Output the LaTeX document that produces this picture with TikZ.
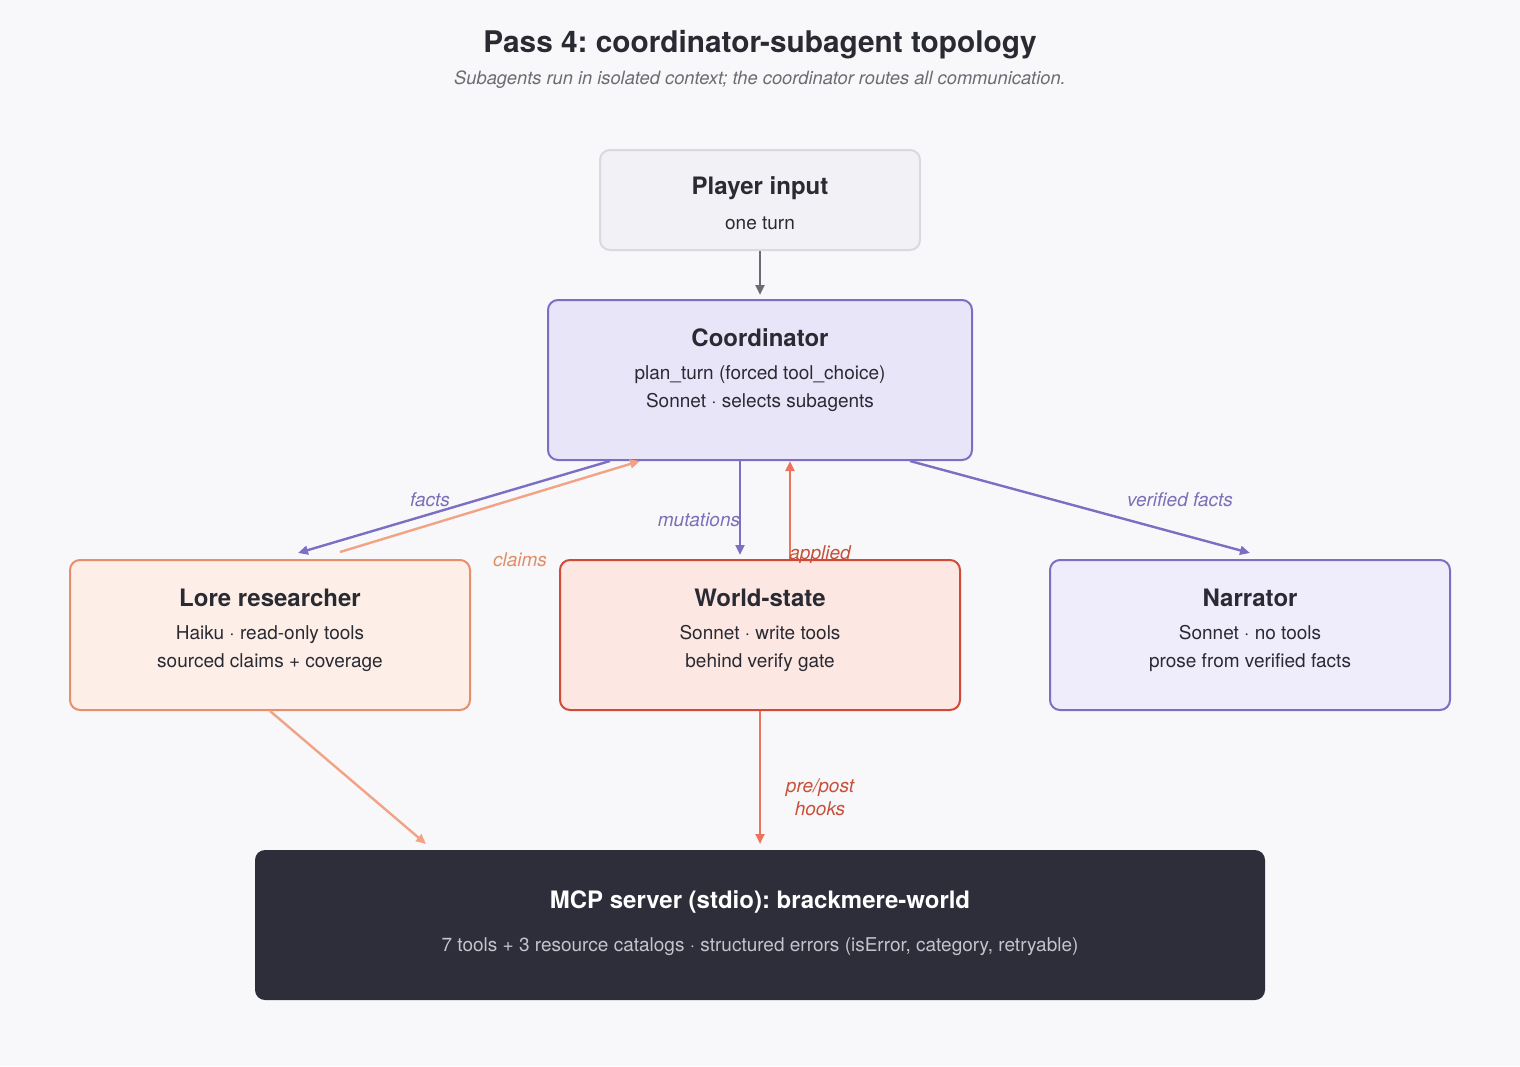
\documentclass[tikz,border=0pt]{standalone}
\usepackage{fontspec}
\setmainfont{TeX Gyre Heros}
\frenchspacing
\usetikzlibrary{arrows.meta,calc}
\definecolor{bgc}{HTML}{F8F8FA}
\definecolor{ink}{HTML}{2A2A33}
\definecolor{subc}{HTML}{6B6B73}
\definecolor{plfill}{HTML}{F2F1F6}
\definecolor{pldraw}{HTML}{D9D9DF}
\definecolor{cofill}{HTML}{E8E5F8}
\definecolor{purp}{HTML}{7B6FC4}
\definecolor{purplab}{HTML}{7A70B8}
\definecolor{lofill}{HTML}{FDEEE7}
\definecolor{lodraw}{HTML}{E98E6D}
\definecolor{wofill}{HTML}{FDE7E2}
\definecolor{wodraw}{HTML}{D04A37}
\definecolor{nafill}{HTML}{EFECFB}
\definecolor{mcpfill}{HTML}{2E2E3A}
\definecolor{mcptext}{HTML}{C4C4CC}
\definecolor{salmon}{HTML}{F2A385}
\definecolor{salmonlab}{HTML}{E08E68}
\definecolor{redarr}{HTML}{EC735C}
\definecolor{redlab}{HTML}{C8503A}
\definecolor{grayarr}{HTML}{6B6B73}
\begin{document}
\begin{tikzpicture}[x=0.5pt,y=-0.5pt,
  box/.style={rounded corners=5pt,line width=1pt,inner sep=0pt},
  ttl/.style={font=\bfseries\fontsize{12}{14}\selectfont,text=ink},
  body/.style={font=\fontsize{9.5}{11.5}\selectfont,text=ink,text height=7pt,text depth=2pt},
  elab/.style={font=\itshape\fontsize{9.5}{11.5}\selectfont,align=center},
  arr/.style={line width=1.2pt,-{Triangle[length=5pt,width=4.4pt]}}]
\fill[bgc] (0,0) rectangle (1520,1066);
\useasboundingbox (0,0) rectangle (1520,1066);

\node[font=\bfseries\fontsize{14.9}{18}\selectfont,text=ink] (title) at (760,45) {Pass 4: coordinator-subagent topology};
\node[font=\itshape\fontsize{9.15}{11}\selectfont,text=subc] (subtitle) at (760,80) {Subagents run in isolated context; the coordinator routes all communication.};

% boxes
\node[box,fill=plfill,draw=pldraw,minimum width=160pt,minimum height=50pt] (player) at (760,200) {};
\node[box,fill=cofill,draw=purp,minimum width=212pt,minimum height=80pt] (coord) at (760,380) {};
\node[box,fill=lofill,draw=lodraw,minimum width=200pt,minimum height=75pt] (lore) at (270,635) {};
\node[box,fill=wofill,draw=wodraw,minimum width=200pt,minimum height=75pt] (world) at (760,635) {};
\node[box,fill=nafill,draw=purp,minimum width=200pt,minimum height=75pt] (narr) at (1250,635) {};
\node[box,fill=mcpfill,draw=none,minimum width=505pt,minimum height=75pt] (mcp) at (760,925) {};

% box texts
\node[ttl] (playerT) at (760,188) {Player input};
\node[body] (playerB) at (760,224) {one turn};
\node[ttl] (coordT) at (760,338) {Coordinator};
\node[body] (coordB1) at (760,374) {plan\_turn (forced tool\_choice)};
\node[body] (coordB2) at (760,402) {Sonnet · selects subagents};
\node[ttl] (loreT) at (270,598) {Lore researcher};
\node[body] (loreB1) at (270,634) {Haiku · read-only tools};
\node[body] (loreB2) at (270,662) {sourced claims + coverage};
\node[ttl] (worldT) at (760,598) {World-state};
\node[body] (worldB1) at (760,634) {Sonnet · write tools};
\node[body] (worldB2) at (760,662) {behind verify gate};
\node[ttl] (narrT) at (1250,598) {Narrator};
\node[body] (narrB1) at (1250,634) {Sonnet · no tools};
\node[body] (narrB2) at (1250,662) {prose from verified facts};
\node[ttl,text=white] (mcpT) at (760,902) {MCP server (stdio): brackmere-world};
\node[body,text=mcptext] (mcpB) at (760,946) {7 tools + 3 resource catalogs · structured errors (isError, category, retryable)};

% connectors
\draw[arr,grayarr] (player.south) -- ($(coord.north)+(0,-4)$);
\draw[arr,purp] ($(coord.south)+(-150,0)$) -- ($(lore.north)+(28,-6)$);
\draw[arr,salmon] ($(lore.north)+(70,-7)$) -- ($(coord.south)+(-120,0)$);
\draw[arr,purp] ($(coord.south)+(-20,0)$) -- ($(world.north)+(-20,-4)$);
\draw[arr,redarr] ($(world.north)+(30,0)$) -- ($(coord.south)+(30,0)$);
\draw[arr,purp] ($(coord.south)+(150,0)$) -- ($(narr.north)+(0,-6)$);
\draw[arr,salmon] (lore.south) -- ($(mcp.north)+(-334,-5)$);
\draw[arr,redarr] (world.south) -- ($(mcp.north)+(0,-5)$);

% edge labels
\node[elab,text=purplab] (lfacts) at (430,500) {facts};
\node[elab,text=salmonlab] (lclaims) at (520,560) {claims};
\node[elab,text=purplab] (lmut) at (699,520) {mutations};
\node[elab,text=redlab] (lapp) at (820,555) {applied};
\node[elab,text=purplab] (lver) at (1180,500) {verified facts};
\node[elab,text=redlab] (lhooks) at (820,797) {pre/post\\hooks};
\end{tikzpicture}
\end{document}
